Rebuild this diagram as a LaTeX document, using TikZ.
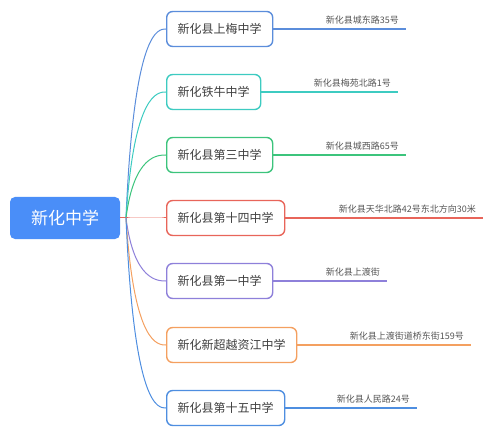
\documentclass[tikz,border=0pt]{standalone}
\usepackage{fontspec}
\setmainfont{Noto Sans CJK SC}
\begin{document}
\begin{tikzpicture}[x=1pt,y=-1pt,
  rootbox/.style={draw=none,fill=rootc,rounded corners=5pt,minimum width=110pt,minimum height=42pt,text=white,font=\fontsize{17}{20}\selectfont,inner sep=0pt},
  kid/.style={draw=#1,line width=1.4pt,rounded corners=6pt,fill=white,minimum height=35pt,inner xsep=11pt,inner ysep=0pt,anchor=west,text=txt,font=\fontsize{12}{14}\selectfont},
  addr/.style={text=txt2,font=\fontsize{9}{10}\selectfont,anchor=south east,inner sep=0pt},
  link/.style={draw=#1,line width=1pt},
  uline/.style={draw=#1,line width=1.1pt}]
\definecolor{rootc}{HTML}{4A8EF8}
\definecolor{txt}{HTML}{404040}
\definecolor{txt2}{HTML}{555555}
\definecolor{c1}{HTML}{5B8DDB}
\definecolor{c2}{HTML}{3DCBC1}
\definecolor{c3}{HTML}{3CC47C}
\definecolor{c4}{HTML}{E8655A}
\definecolor{c5}{HTML}{8E80DA}
\definecolor{c6}{HTML}{F4A060}
\definecolor{c7}{HTML}{4E8EE0}
\useasboundingbox (0,0) rectangle (500,438);
\node[rootbox] (root) at (65,218) {新化中学};
\coordinate (hub) at (126,218);
\draw[link=c4] (root.east) -- (hub);
\foreach \i/\y/\name/\c/\e/\ad in {
  1/29/新化县上梅中学/c1/406/新化县城东路35号,
  2/92/新化铁牛中学/c2/398/新化县梅苑北路1号,
  3/155/新化县第三中学/c3/406/新化县城西路65号,
  4/218/新化县第十四中学/c4/483/新化县天华北路42号东北方向30米,
  5/281/新化县第一中学/c5/387/新化县上渡街,
  6/345/新化新超越资江中学/c6/471/新化县上渡街道桥东街159号,
  7/408/新化县第十五中学/c7/417/新化县人民路24号}{
  \node[kid=\c] (k\i) at (166,\y) {\name};
  \coordinate (e\i) at (\e,\y);
  \draw[link=\c] (hub) .. controls (134,\y) and (158,\y) .. (k\i.west);
  \draw[uline=\c] (k\i.east) -- (e\i);
  \node[addr] (a\i) at ([xshift=-7pt,yshift=5pt]e\i) {\ad};
}
\end{tikzpicture}
\end{document}
